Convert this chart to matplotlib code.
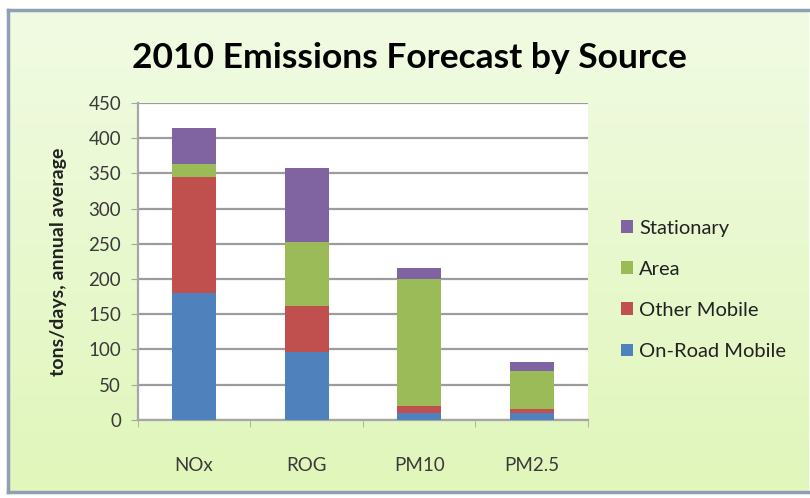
import numpy as np
import matplotlib
matplotlib.use("Agg")
import matplotlib.pyplot as plt
from matplotlib.colors import LinearSegmentedColormap

plt.rcParams['font.family'] = ['Lato', 'DejaVu Sans']

# Data (tons/day, annual average)
pollutants = ["NOx", "ROG", "PM10", "PM2.5"]
on_road = [180, 96, 10, 9]
other_mobile = [165, 66, 10, 7]
area = [19, 90, 180, 54]
stationary = [50, 106, 15, 12]

series = [("On-Road Mobile", on_road, "#4F81BD"),
          ("Other Mobile", other_mobile, "#C0504D"),
          ("Area", area, "#9BBB59"),
          ("Stationary", stationary, "#8064A2")]

fig = plt.figure(figsize=(8.1, 4.98), dpi=100)
fig.patch.set_facecolor("white")

# chart area: soft vertical green gradient with a bluish frame
bg = fig.add_axes([0.010, 0.012, 0.988, 0.968])
grad = LinearSegmentedColormap.from_list("bg", ["#E0F6BA", "#F1FBE3"])
bg.imshow(np.linspace(0, 1, 256).reshape(-1, 1), aspect="auto", cmap=grad,
          origin="lower", extent=[0, 1, 0, 1])
bg.set_xticks([])
bg.set_yticks([])
for s in bg.spines.values():
    s.set_color("#8FA0B4")
    s.set_linewidth(2.5)
bg.spines["right"].set_visible(False)

ax = fig.add_axes([0.170, 0.157, 0.556, 0.636])
ax.set_facecolor("white")

x = np.arange(len(pollutants))
bottom = np.zeros(len(pollutants))
handles = []
for name, vals, col in series:
    b = ax.bar(x, vals, width=0.39, bottom=bottom, color=col, label=name, zorder=3)
    handles.append(b)
    bottom += np.array(vals)

ax.set_ylim(0, 450)
ax.set_yticks(np.arange(0, 451, 50))
ax.set_xlim(-0.5, len(pollutants) - 0.5)
ax.set_xticks(x)
ax.set_xticklabels(pollutants)
ax.grid(axis="y", color="#9C9C9C", linewidth=1.6, zorder=0)
for s in ["top", "right"]:
    ax.spines[s].set_visible(False)
for s in ["left", "bottom"]:
    ax.spines[s].set_color("#A6A6A6")
    ax.spines[s].set_linewidth(1.6)
ax.tick_params(axis="y", colors="#A6A6A6", labelcolor="#3A3A3A", labelsize=13.5,
               length=5, pad=7)
ax.tick_params(axis="x", length=0, labelcolor="#3A3A3A", labelsize=13.5, pad=27)
# category boundary ticks
ax.set_xticks(np.arange(-0.5, len(pollutants)), minor=True)
ax.tick_params(axis="x", which="minor", length=5, color="#A6A6A6")

ax.set_ylabel("tons/days, annual average", fontsize=14, fontweight="bold",
              color="#222222")
ax.yaxis.set_label_coords(-0.157, 0.5)

fig.text(0.506, 0.883, "2010 Emissions Forecast by Source", ha="center", va="center",
         fontsize=25.5, fontweight="bold", color="black")

leg = fig.legend(handles[::-1], [s[0] for s in series][::-1], loc="center left",
                 bbox_to_anchor=(0.767, 0.418), frameon=False, fontsize=14.5,
                 handlelength=0.6, handleheight=0.6, handletextpad=0.3,
                 labelspacing=1.2, borderpad=0, borderaxespad=0)
for t in leg.get_texts():
    t.set_color("#222222")

fig.savefig("out.png", dpi=100)
